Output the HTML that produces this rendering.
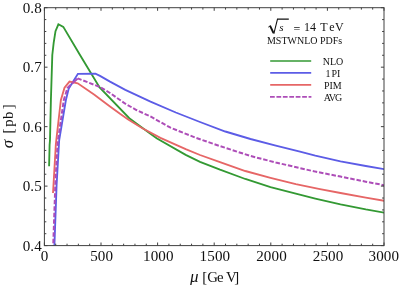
<!DOCTYPE html>
<html><head><meta charset="utf-8"><title>plot</title>
<style>
html,body{margin:0;padding:0;background:#fff;}
body{width:399px;height:285px;overflow:hidden;}
svg{display:block;will-change:transform;}
text{font-family:"Liberation Serif",serif;fill:#111;}
</style></head><body>
<svg width="399" height="285" viewBox="0 0 399 285">
<rect x="0" y="0" width="399" height="285" fill="#fff"/>
<clipPath id="c"><rect x="44.4" y="7.7" width="339.6" height="237.9"/></clipPath>
<g clip-path="url(#c)" fill="none" stroke-width="1.85" stroke-linejoin="miter" stroke-miterlimit="3" stroke-linecap="butt">
<path d="M49.1 166.3 L49.6 145.0 L50.0 140.0 L50.9 100.0 L52.3 55.0 L53.7 42.7 L55.5 31.2 L58.4 24.3 L63.3 26.9 L80.0 55.0 L99.6 87.5 L129.3 118.2 L141.5 127.2 L156.6 138.3 L185.7 154.9 L200.0 161.8 L220.0 169.7 L245.3 179.0 L270.5 187.1 L295.8 193.7 L315.3 198.6 L340.5 204.4 L365.8 209.4 L384.2 212.6" stroke="#339933"/>
<path d="M54.4 246.0 L56.6 185.0 L58.9 145.0 L59.2 140.0 L65.9 100.0 L68.8 88.4 L77.9 73.8 L95.4 73.6 L100.0 75.9 L110.0 81.6 L125.3 89.8 L150.5 101.7 L175.8 112.5 L200.0 122.0 L225.3 131.5 L250.5 139.0 L275.8 145.6 L300.0 151.7 L315.3 155.7 L340.5 161.3 L365.8 166.0 L384.2 169.2" stroke="#5c5ce6"/>
<path d="M53.0 193.0 L53.2 190.0 L55.8 145.0 L56.3 140.0 L60.9 100.0 L64.5 87.7 L69.5 81.6 L77.7 83.3 L94.4 94.8 L100.0 98.9 L110.0 106.4 L120.0 113.8 L127.8 119.3 L141.5 127.7 L160.4 137.8 L185.7 149.1 L200.0 155.0 L220.0 162.2 L245.3 171.0 L270.5 177.8 L295.8 184.1 L320.0 189.1 L340.5 193.0 L365.8 197.6 L384.2 200.8" stroke="#e66666"/>
<path d="M384.2 185.2 L365.8 181.7 L340.5 176.6 L315.3 171.6 L300.0 168.1 L275.8 162.5 L250.5 156.0 L220.0 146.1 L195.8 137.8 L170.5 127.7 L150.5 116.5 L136.4 110.0 L125.3 103.7 L110.0 93.0 L100.0 87.0 L77.7 78.4" stroke="#ad4db8" stroke-width="2" stroke-dasharray="4.5 1.87" stroke-dashoffset="1.75"/>
<path d="M77.7 78.4 L67.6 87.7 L63.8 100.0 L58.0 140.0 L57.5 145.0 L55.3 185.0 L53.2 246.0" stroke="#ad4db8" stroke-width="2" stroke-dasharray="7.9 1.9 4.6 1.9 4.6 1.9 4.6 1.9 4.6 1.9 4.6 1.9 4.6 1.9 4.6 1.9 4.6 1.9 4.6 1.9 4.6 1.9 4.6 1.9 4.6 1.9 4.6 1.9 4.6 1.9 4.6 1.9 4.6 1.9 4.6 1.9 4.6 1.9 4.6 1.9 4.6 1.9 4.6 1.9 4.6 1.9 4.6 1.9 4.6 1.9 4.6 1.9 4.6 1.9 4.6 1.9 4.6 1.9 4.6 1.9 4.6 1.9 4.6 1.9 4.6 1.9 4.6 1.9 4.6 1.9 4.6 1.9 4.6 1.9 4.6 1.9 4.6 1.9 4.6 1.9 4.6 1.9"/>
</g>
<g stroke="#404040" stroke-width="1" fill="none">
<rect x="44.4" y="7.7" width="339.6" height="237.9"/>
<line x1="44.40" y1="245.60" x2="44.40" y2="242.50"/><line x1="44.40" y1="7.70" x2="44.40" y2="10.80"/><line x1="55.72" y1="245.60" x2="55.72" y2="243.70"/><line x1="55.72" y1="7.70" x2="55.72" y2="9.60"/><line x1="67.04" y1="245.60" x2="67.04" y2="243.70"/><line x1="67.04" y1="7.70" x2="67.04" y2="9.60"/><line x1="78.36" y1="245.60" x2="78.36" y2="243.70"/><line x1="78.36" y1="7.70" x2="78.36" y2="9.60"/><line x1="89.68" y1="245.60" x2="89.68" y2="243.70"/><line x1="89.68" y1="7.70" x2="89.68" y2="9.60"/><line x1="101.00" y1="245.60" x2="101.00" y2="242.50"/><line x1="101.00" y1="7.70" x2="101.00" y2="10.80"/><line x1="112.32" y1="245.60" x2="112.32" y2="243.70"/><line x1="112.32" y1="7.70" x2="112.32" y2="9.60"/><line x1="123.64" y1="245.60" x2="123.64" y2="243.70"/><line x1="123.64" y1="7.70" x2="123.64" y2="9.60"/><line x1="134.96" y1="245.60" x2="134.96" y2="243.70"/><line x1="134.96" y1="7.70" x2="134.96" y2="9.60"/><line x1="146.28" y1="245.60" x2="146.28" y2="243.70"/><line x1="146.28" y1="7.70" x2="146.28" y2="9.60"/><line x1="157.60" y1="245.60" x2="157.60" y2="242.50"/><line x1="157.60" y1="7.70" x2="157.60" y2="10.80"/><line x1="168.92" y1="245.60" x2="168.92" y2="243.70"/><line x1="168.92" y1="7.70" x2="168.92" y2="9.60"/><line x1="180.24" y1="245.60" x2="180.24" y2="243.70"/><line x1="180.24" y1="7.70" x2="180.24" y2="9.60"/><line x1="191.56" y1="245.60" x2="191.56" y2="243.70"/><line x1="191.56" y1="7.70" x2="191.56" y2="9.60"/><line x1="202.88" y1="245.60" x2="202.88" y2="243.70"/><line x1="202.88" y1="7.70" x2="202.88" y2="9.60"/><line x1="214.20" y1="245.60" x2="214.20" y2="242.50"/><line x1="214.20" y1="7.70" x2="214.20" y2="10.80"/><line x1="225.52" y1="245.60" x2="225.52" y2="243.70"/><line x1="225.52" y1="7.70" x2="225.52" y2="9.60"/><line x1="236.84" y1="245.60" x2="236.84" y2="243.70"/><line x1="236.84" y1="7.70" x2="236.84" y2="9.60"/><line x1="248.16" y1="245.60" x2="248.16" y2="243.70"/><line x1="248.16" y1="7.70" x2="248.16" y2="9.60"/><line x1="259.48" y1="245.60" x2="259.48" y2="243.70"/><line x1="259.48" y1="7.70" x2="259.48" y2="9.60"/><line x1="270.80" y1="245.60" x2="270.80" y2="242.50"/><line x1="270.80" y1="7.70" x2="270.80" y2="10.80"/><line x1="282.12" y1="245.60" x2="282.12" y2="243.70"/><line x1="282.12" y1="7.70" x2="282.12" y2="9.60"/><line x1="293.44" y1="245.60" x2="293.44" y2="243.70"/><line x1="293.44" y1="7.70" x2="293.44" y2="9.60"/><line x1="304.76" y1="245.60" x2="304.76" y2="243.70"/><line x1="304.76" y1="7.70" x2="304.76" y2="9.60"/><line x1="316.08" y1="245.60" x2="316.08" y2="243.70"/><line x1="316.08" y1="7.70" x2="316.08" y2="9.60"/><line x1="327.40" y1="245.60" x2="327.40" y2="242.50"/><line x1="327.40" y1="7.70" x2="327.40" y2="10.80"/><line x1="338.72" y1="245.60" x2="338.72" y2="243.70"/><line x1="338.72" y1="7.70" x2="338.72" y2="9.60"/><line x1="350.04" y1="245.60" x2="350.04" y2="243.70"/><line x1="350.04" y1="7.70" x2="350.04" y2="9.60"/><line x1="361.36" y1="245.60" x2="361.36" y2="243.70"/><line x1="361.36" y1="7.70" x2="361.36" y2="9.60"/><line x1="372.68" y1="245.60" x2="372.68" y2="243.70"/><line x1="372.68" y1="7.70" x2="372.68" y2="9.60"/><line x1="384.00" y1="245.60" x2="384.00" y2="242.50"/><line x1="384.00" y1="7.70" x2="384.00" y2="10.80"/><line x1="44.40" y1="245.60" x2="47.50" y2="245.60"/><line x1="384.00" y1="245.60" x2="380.90" y2="245.60"/><line x1="44.40" y1="233.70" x2="46.30" y2="233.70"/><line x1="384.00" y1="233.70" x2="382.10" y2="233.70"/><line x1="44.40" y1="221.81" x2="46.30" y2="221.81"/><line x1="384.00" y1="221.81" x2="382.10" y2="221.81"/><line x1="44.40" y1="209.91" x2="46.30" y2="209.91"/><line x1="384.00" y1="209.91" x2="382.10" y2="209.91"/><line x1="44.40" y1="198.02" x2="46.30" y2="198.02"/><line x1="384.00" y1="198.02" x2="382.10" y2="198.02"/><line x1="44.40" y1="186.12" x2="47.50" y2="186.12"/><line x1="384.00" y1="186.12" x2="380.90" y2="186.12"/><line x1="44.40" y1="174.23" x2="46.30" y2="174.23"/><line x1="384.00" y1="174.23" x2="382.10" y2="174.23"/><line x1="44.40" y1="162.33" x2="46.30" y2="162.33"/><line x1="384.00" y1="162.33" x2="382.10" y2="162.33"/><line x1="44.40" y1="150.44" x2="46.30" y2="150.44"/><line x1="384.00" y1="150.44" x2="382.10" y2="150.44"/><line x1="44.40" y1="138.54" x2="46.30" y2="138.54"/><line x1="384.00" y1="138.54" x2="382.10" y2="138.54"/><line x1="44.40" y1="126.65" x2="47.50" y2="126.65"/><line x1="384.00" y1="126.65" x2="380.90" y2="126.65"/><line x1="44.40" y1="114.75" x2="46.30" y2="114.75"/><line x1="384.00" y1="114.75" x2="382.10" y2="114.75"/><line x1="44.40" y1="102.86" x2="46.30" y2="102.86"/><line x1="384.00" y1="102.86" x2="382.10" y2="102.86"/><line x1="44.40" y1="90.96" x2="46.30" y2="90.96"/><line x1="384.00" y1="90.96" x2="382.10" y2="90.96"/><line x1="44.40" y1="79.07" x2="46.30" y2="79.07"/><line x1="384.00" y1="79.07" x2="382.10" y2="79.07"/><line x1="44.40" y1="67.18" x2="47.50" y2="67.18"/><line x1="384.00" y1="67.18" x2="380.90" y2="67.18"/><line x1="44.40" y1="55.28" x2="46.30" y2="55.28"/><line x1="384.00" y1="55.28" x2="382.10" y2="55.28"/><line x1="44.40" y1="43.39" x2="46.30" y2="43.39"/><line x1="384.00" y1="43.39" x2="382.10" y2="43.39"/><line x1="44.40" y1="31.49" x2="46.30" y2="31.49"/><line x1="384.00" y1="31.49" x2="382.10" y2="31.49"/><line x1="44.40" y1="19.59" x2="46.30" y2="19.59"/><line x1="384.00" y1="19.59" x2="382.10" y2="19.59"/><line x1="44.40" y1="7.70" x2="47.50" y2="7.70"/><line x1="384.00" y1="7.70" x2="380.90" y2="7.70"/>
</g>
<g font-size="15.1">
<text x="44.50" y="260.9" text-anchor="middle" letter-spacing="0.1">0</text><text x="101.70" y="260.9" text-anchor="middle" letter-spacing="0.1">500</text><text x="158.30" y="260.9" text-anchor="middle" letter-spacing="0.1">1000</text><text x="214.90" y="260.9" text-anchor="middle" letter-spacing="0.1">1500</text><text x="271.50" y="260.9" text-anchor="middle" letter-spacing="0.1">2000</text><text x="328.10" y="260.9" text-anchor="middle" letter-spacing="0.1">2500</text><text x="383.80" y="260.9" text-anchor="middle" letter-spacing="0.1">3000</text>
<text x="41.8" y="250.80" text-anchor="end" letter-spacing="0.1">0.4</text><text x="41.8" y="191.32" text-anchor="end" letter-spacing="0.1">0.5</text><text x="41.8" y="131.85" text-anchor="end" letter-spacing="0.1">0.6</text><text x="41.8" y="72.38" text-anchor="end" letter-spacing="0.1">0.7</text><text x="41.8" y="12.90" text-anchor="end" letter-spacing="0.1">0.8</text>
</g>
<!-- axis labels -->
<g font-size="14.3">
<text x="189.9" y="282.0" font-style="italic" font-size="17">μ</text>
<text x="202.2 207.3 217.0 226.0 234.3" y="282.1" font-size="14.8">[GeV]</text>
<text transform="translate(12.8,148.3) rotate(-90)" font-style="italic" font-size="17">σ</text>
<text transform="translate(12.6,0) rotate(-90)" x="-133.4 -126.8 -119.0 -109.2" y="0" font-size="14.8">[pb]</text>
</g>
<!-- title -->
<g font-size="12">
<path d="M268.2 27.2 L270.3 25.9" fill="none" stroke="#111" stroke-width="0.8"/>
<path d="M270.0 25.7 L273.5 33.0" fill="none" stroke="#111" stroke-width="1.9"/>
<path d="M273.8 33.8 L277.5 19.1 L288.8 19.1" fill="none" stroke="#111" stroke-width="1.05" stroke-linejoin="miter"/>
<text x="279.2" y="31.4" font-style="italic" font-size="11">s</text>
<text x="293.6" y="33.25">=</text>
<text x="304" y="31.4">14</text>
<text x="320.2 329.2 335.0" y="31.4">TeV</text>
</g>
<text x="304.6" y="43.9" font-size="10" text-anchor="middle">MSTWNLO PDFs</text>
<!-- legend -->
<g fill="none" stroke-width="1.7">
<line x1="270.2" y1="61.0" x2="311.2" y2="61.0" stroke="#339933"/>
<line x1="270.2" y1="72.9" x2="311.2" y2="72.9" stroke="#5c5ce6"/>
<line x1="270.2" y1="84.9" x2="311.2" y2="84.9" stroke="#e66666"/>
<line x1="270.0" y1="96.9" x2="311.4" y2="96.9" stroke="#ad4db8" stroke-width="1.9" stroke-dasharray="4.75 1.68"/>
</g>
<g font-size="10" text-anchor="middle">
<text x="333" y="64.8">NLO</text>
<text x="325.6 331.5 337.0" y="76.8" text-anchor="start">1PI</text>
<text x="332.8" y="88.8">PIM</text>
<text x="333" y="100.8" textLength="18.4" lengthAdjust="spacing">AVG</text>
</g>
</svg>
</body></html>
